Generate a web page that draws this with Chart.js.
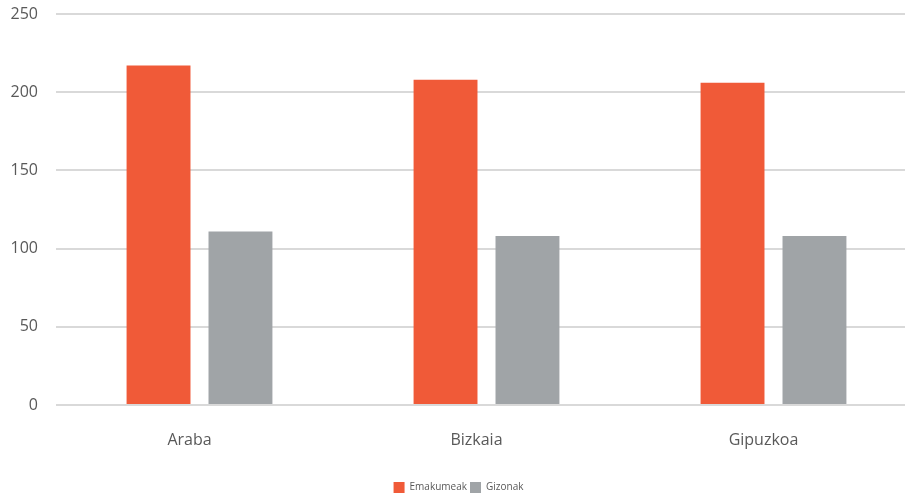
<!DOCTYPE html>
<html>
<head>
<meta charset="utf-8">
<script src="https://cdn.jsdelivr.net/npm/chart.js@4.4.1/dist/chart.umd.min.js"></script>
<style>
  html, body { margin: 0; padding: 0; background: #fff; overflow: hidden; width: 905px; height: 495px; }
  /* the plot runs past the right edge in the original, and the legend sits low,
     so the canvas is a little larger than the window and gets clipped */
  #wrap { width: 917px; height: 503px; position: relative; }
</style>
</head>
<body>
<div id="wrap"><canvas id="chart"></canvas></div>
<script>
// Data
const categories = ['Araba', 'Bizkaia', 'Gipuzkoa'];
const emakumeak = [217, 208, 206];
const gizonak = [111, 108, 108];
const yTicks = [0, 50, 100, 150, 200, 250];

const textColor = '#595959';
const gridColor = '#d9d9d9';
const fontFamily = '"Open Sans", sans-serif';

new Chart(document.getElementById('chart').getContext('2d'), {
    type: 'bar',
    data: {
        labels: categories,
        datasets: [
            {
                label: 'Emakumeak',
                data: emakumeak,
                backgroundColor: '#f05a38'
            },
            {
                label: 'Gizonak',
                data: gizonak,
                backgroundColor: '#a0a4a7'
            }
        ]
    },
    options: {
        responsive: true,
        maintainAspectRatio: false,
        animation: false,
        categoryPercentage: 0.571,
        barPercentage: 0.78,
        layout: {
            padding: { left: 0, right: 0, top: 14, bottom: 0 }
        },
        plugins: {
            tooltip: { enabled: false },
            legend: {
                position: 'bottom',
                labels: {
                    color: textColor,
                    boxWidth: 11,
                    boxHeight: 11,
                    padding: 3,
                    font: { family: fontFamily, size: 10 }
                }
            }
        },
        scales: {
            x: {
                grid: { display: false },
                border: { display: false },
                ticks: {
                    color: textColor,
                    padding: 18,
                    labelOffset: -10,
                    font: { family: fontFamily, size: 16 }
                },
                afterFit: (axis) => {
                    axis.height = 74;
                    axis.paddingLeft = 0;
                    axis.paddingRight = 0;
                }
            },
            y: {
                min: 0,
                max: 250,
                afterBuildTicks: (axis) => {
                    axis.ticks = yTicks.map(v => ({ value: v }));
                },
                grid: {
                    color: gridColor,
                    lineWidth: 2,
                    drawTicks: false
                },
                border: { display: false },
                ticks: {
                    color: textColor,
                    padding: 18,
                    font: { family: fontFamily, size: 16 }
                },
                afterFit: (axis) => {
                    axis.width = 56;
                    axis.paddingTop = 0;
                    axis.paddingBottom = 0;
                }
            }
        }
    }
});
</script>
</body>
</html>
